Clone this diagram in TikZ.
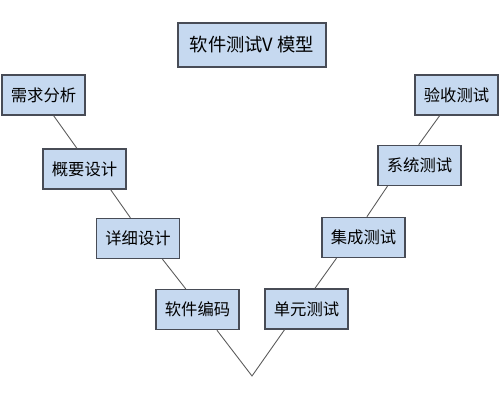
\documentclass[tikz,border=0pt]{standalone}
\usepackage{fontspec}
\newfontfamily\cjk{Noto Sans CJK SC}
\usetikzlibrary{positioning,calc}
\definecolor{BoxFill}{RGB}{198, 217, 240}
\definecolor{BoxEdge}{RGB}{72, 76, 86}
\definecolor{LineGray}{RGB}{90, 90, 90}

\begin{document}
\begin{tikzpicture}[x=0.02cm, y=-0.02cm,
  stage/.style={draw=BoxEdge, line width=0.8pt, fill=BoxFill, minimum width=1.66cm, minimum height=0.8cm, inner sep=0pt, font=\cjk\fontsize{9.3pt}{11pt}\selectfont},
  link/.style={LineGray, line width=0.5pt}]
\useasboundingbox (0,0) rectangle (500,402);

% Title
\node[stage, minimum width=2.96cm, minimum height=0.88cm, font=\cjk\fontsize{10.4pt}{12pt}\selectfont] (title) at (252,45) {软件测试V 模型};

% Left branch
\node[stage] (req) at (43.5,95) {需求分析};
\node[stage] (outline) at (84.5,169) {概要设计};
\node[stage] (detail) at (138,238.5) {详细设计};
\node[stage] (coding) at (197.5,309.5) {软件编码};

% Right branch
\node[stage] (unit) at (306.5,309) {单元测试};
\node[stage] (integ) at (363.5,237.5) {集成测试};
\node[stage] (system) at (419.5,165.5) {系统测试};
\node[stage] (accept) at (456.5,95) {验收测试};

% Bottom of the V
\coordinate (tip) at (252,376);

% Connectors
\draw[link] ($(req.south west)!0.62!(req.south east)$) -- ($(outline.north west)!0.41!(outline.north east)$);
\draw[link] ($(outline.south west)!0.81!(outline.south east)$) -- ($(detail.north west)!0.41!(detail.north east)$);
\draw[link] ($(detail.south west)!0.79!(detail.south east)$) -- ($(coding.north west)!0.36!(coding.north east)$);
\draw[link] ($(coding.south west)!0.73!(coding.south east)$) -- (tip) -- ($(unit.south west)!0.24!(unit.south east)$);
\draw[link] ($(unit.north west)!0.60!(unit.north east)$) -- ($(integ.south west)!0.18!(integ.south east)$);
\draw[link] ($(integ.north west)!0.54!(integ.north east)$) -- ($(system.south west)!0.12!(system.south east)$);
\draw[link] ($(system.north west)!0.49!(system.north east)$) -- ($(accept.south west)!0.30!(accept.south east)$);
\end{tikzpicture}
\end{document}
